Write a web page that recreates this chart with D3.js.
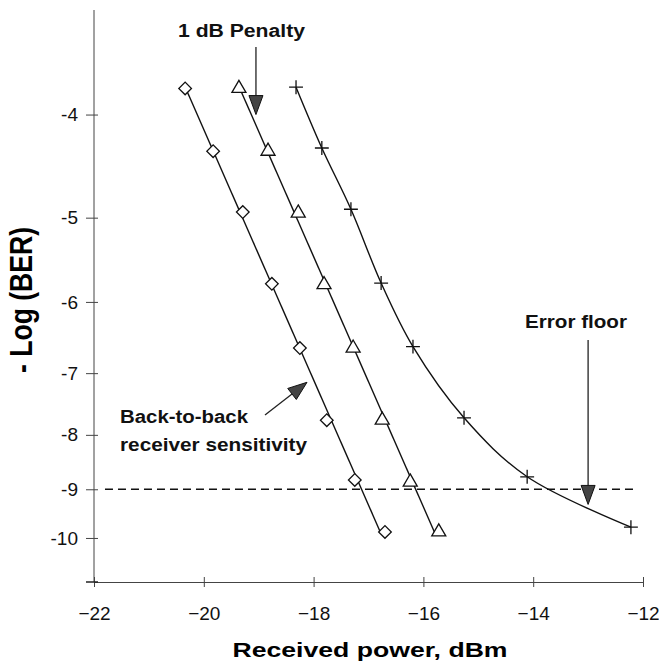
<!DOCTYPE html>
<html>
<head>
<meta charset="utf-8">
<script src="https://cdn.jsdelivr.net/npm/d3@7"></script>
<style>
  body { margin: 0; background: #fff; }
  svg { font-family: "Liberation Sans", Arial, sans-serif; }
</style>
</head>
<body>
<svg></svg>
<script>
var width = 659;
var height = 663;

// received power (dBm) and -log(BER)
var powerB2B = [-20.34, -19.83, -19.29, -18.76, -18.25, -17.76, -17.25, -16.70];
var berB2B = [3.78, 4.33, 4.94, 5.77, 6.63, 7.75, 8.82, 9.87];

var powerPenalty = [-19.36, -18.83, -18.28, -17.81, -17.28, -16.75, -16.24, -15.72];
var berPenalty = [3.78, 4.33, 4.95, 5.78, 6.63, 7.75, 8.86, 9.87];

var powerFloor = [-18.32, -17.85, -17.32, -16.77, -16.19, -15.26, -14.11, -12.22];
var berFloor = [3.77, 4.30, 4.91, 5.76, 6.61, 7.71, 8.76, 9.77];

var xTicks = [-22, -20, -18, -16, -14, -12];
var yTicks = [4, 5, 6, 7, 8, 9, 10];
var threshold = 9;

var svg = d3.select('svg')
            .attr('width', width)
            .attr('height', height);

var x = d3.scaleLinear()
          .domain([-22, -12])
          .range([94, 643]);

// BER axis is log of -log(BER)
var y = d3.scaleLog()
          .domain([3.19, 11])
          .range([10, 582]);

var zip = (xs, ys) => xs.map((v, i) => ({p: v, b: ys[i]}));
var b2b = zip(powerB2B, berB2B);
var pen = zip(powerPenalty, berPenalty);
var floor = zip(powerFloor, berFloor);

// axes
var xAxis = svg.append('g')
    .attr('transform', `translate(0, ${y(11)})`)
    .call(d3.axisBottom(x).tickValues(xTicks).tickSize(5).tickSizeOuter(0));
xAxis.select('.domain').attr('stroke', '#444');
xAxis.selectAll('.tick line').attr('stroke', '#444').attr('y1', -5);
xAxis.selectAll('.tick text')
    .attr('y', 38)
    .attr('dy', 0)
    .style('font-size', '19px')
    .attr('fill', '#111');

var yAxis = svg.append('g')
    .attr('transform', `translate(${x(-22)}, 0)`)
    .call(d3.axisLeft(y).tickValues(yTicks).tickFormat(d => '-' + d).tickSize(8).tickSizeOuter(0));
yAxis.select('.domain').attr('d', `M0,${y(3.19)}V${y(11)}`).attr('stroke', '#444');
yAxis.selectAll('.tick line').attr('stroke', '#444').attr('x2', 4).attr('x1', -8);
yAxis.selectAll('.tick text')
    .attr('x', -16)
    .style('font-size', '19px')
    .attr('fill', '#111');
yAxis.append('line')
    .attr('x1', -8).attr('x2', 4)
    .attr('y1', y(11)).attr('y2', y(11))
    .attr('stroke', '#222').attr('stroke-width', 1.5);

// axis titles
svg.append('text')
    .attr('x', 370)
    .attr('y', 657)
    .attr('text-anchor', 'middle')
    .attr('textLength', 275)
    .attr('lengthAdjust', 'spacingAndGlyphs')
    .style('font-size', '21px')
    .style('font-weight', 'bold')
    .text('Received power, dBm');

svg.append('text')
    .attr('transform', 'translate(32, 300) scale(1.45, 1) rotate(-90)')
    .attr('text-anchor', 'middle')
    .attr('textLength', 146)
    .attr('lengthAdjust', 'spacingAndGlyphs')
    .style('font-size', '22px')
    .style('font-weight', 'bold')
    .text('- Log (BER)');

// threshold line
svg.append('line')
    .attr('x1', x(-21.8)).attr('x2', x(-12.15))
    .attr('y1', y(threshold)).attr('y2', y(threshold))
    .attr('stroke', '#111')
    .attr('stroke-width', 1.3)
    .attr('stroke-dasharray', '8,5');

// straight fits for the two linear series (least squares on the plotted positions)
[b2b, pen].forEach(s => {
    var ys = s.map(d => y(d.b)), xs = s.map(d => x(d.p));
    var my = d3.mean(ys), mx = d3.mean(xs);
    var slope = d3.sum(ys, (v, i) => (v - my) * (xs[i] - mx)) / d3.sum(ys, v => (v - my) * (v - my));
    var y0 = ys[0], y1 = ys[ys.length - 1];
    svg.append('line')
        .attr('x1', mx + slope * (y0 - my)).attr('y1', y0)
        .attr('x2', mx + slope * (y1 - my)).attr('y2', y1)
        .attr('stroke', '#111')
        .attr('stroke-width', 1.4);
});

// error floor curve
svg.append('path')
    .datum(floor)
    .attr('fill', 'none')
    .attr('stroke', '#111')
    .attr('stroke-width', 1.4)
    .attr('d', d3.line().x(d => x(d.p)).y(d => y(d.b)).curve(d3.curveCatmullRom));

// markers
svg.append('g').selectAll('path')
    .data(b2b)
    .enter()
    .append('path')
        .attr('transform', d => `translate(${x(d.p)}, ${y(d.b)}) rotate(45)`)
        .attr('d', d3.symbol(d3.symbolSquare, 80))
        .attr('fill', '#fff')
        .attr('stroke', '#111')
        .attr('stroke-width', 1.3);

svg.append('g').selectAll('path')
    .data(pen)
    .enter()
    .append('path')
        .attr('transform', d => `translate(${x(d.p)}, ${y(d.b)})`)
        .attr('d', d3.symbol(d3.symbolTriangle, 85))
        .attr('fill', '#fff')
        .attr('stroke', '#111')
        .attr('stroke-width', 1.3);

svg.append('g').selectAll('path')
    .data(floor)
    .enter()
    .append('path')
        .attr('transform', d => `translate(${x(d.p)}, ${y(d.b)})`)
        .attr('d', d3.symbol(d3.symbolPlus, 65))
        .attr('fill', 'none')
        .attr('stroke', '#111')
        .attr('stroke-width', 1.3);

// annotations
function arrow(x1, y1, x2, y2) {
    var ang = Math.atan2(y2 - y1, x2 - x1);
    var len = 19, half = 7;
    var bx = x2 - len * Math.cos(ang), by = y2 - len * Math.sin(ang);
    svg.append('line')
        .attr('x1', x1).attr('y1', y1)
        .attr('x2', bx).attr('y2', by)
        .attr('stroke', '#222')
        .attr('stroke-width', 1.3);
    var px = -Math.sin(ang) * half, py = Math.cos(ang) * half;
    svg.append('path')
        .attr('d', `M${x2},${y2}L${bx + px},${by + py}L${bx - px},${by - py}Z`)
        .attr('fill', '#444')
        .attr('stroke', '#111')
        .attr('stroke-width', 1);
}

function label(tx, ty, txt, w) {
    svg.append('text')
        .attr('x', tx)
        .attr('y', ty)
        .attr('textLength', w)
        .attr('lengthAdjust', 'spacingAndGlyphs')
        .style('font-size', '18px')
        .style('font-weight', 'bold')
        .attr('fill', '#111')
        .text(txt);
}

label(178, 37, '1 dB Penalty', 127);
arrow(x(-19.05), 47, x(-19.05), y(4.0));

label(525, 328, 'Error floor', 102);
arrow(x(-13.0), 340, x(-13.0), y(9.3));

label(120, 423, 'Back-to-back', 128);
label(120, 451, 'receiver sensitivity', 187);
arrow(265, 415, x(-18.12), y(7.14));
</script>
</body>
</html>
